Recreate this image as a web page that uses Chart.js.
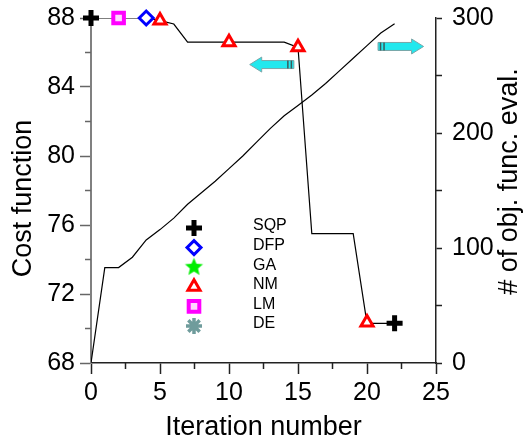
<!DOCTYPE html>
<html>
<head>
<meta charset="utf-8">
<script src="https://cdn.jsdelivr.net/npm/chart.js"></script>
<style>
    html, body { margin: 0; padding: 0; background: #fff; }
    #wrap { width: 525px; height: 442px; }
</style>
</head>
<body>
<div id="wrap"><canvas id="costChart" width="525" height="442"></canvas></div>
<script>
const FONT = '"Liberation Sans", Arial, sans-serif';

// # of objective function evaluations (right axis)
const evalIter = [0, 1, 2, 3, 4, 5, 6, 7, 8, 9, 10, 11, 12, 13, 14, 15, 16, 17, 18, 19, 20, 21, 22];
const evalCount = [0, 83, 83, 92, 107, 116, 126, 138, 148, 158, 169, 180, 192, 204, 215, 224, 233, 243, 254, 265, 276, 287, 295];

// cost function path (left axis)
const costIter = [0, 2, 4, 5, 6, 7, 14, 15, 16, 19, 20, 22];
const costValue = [88, 88, 88, 87.85, 87.65, 86.6, 86.6, 86.3, 75.5, 75.5, 70.3, 70.3];

// markers per method
const sqpIter = [0, 22];
const sqpCost = [88, 70.3];
const dfpIter = [4];
const dfpCost = [88];
const gaIter = [];
const gaCost = [];
const nmIter = [5, 10, 15, 20];
const nmCost = [87.85, 86.6, 86.3, 70.35];
const lmIter = [2];
const lmCost = [88];
const deIter = [];
const deCost = [];

// ticks
const xTicks = [0, 5, 10, 15, 20, 25];
const xMinor = [2.5, 7.5, 12.5, 17.5, 22.5];
const costTicks = [68, 72, 76, 80, 84, 88];
const costMinor = [70, 74, 78, 82, 86];
const evalTicks = [0, 100, 200, 300];
const evalMinor = [50, 150, 250];

function toPoints(xs, ys) {
    return xs.map((x, i) => ({ x: x, y: ys[i] }));
}

// filled five point star for GA
function makeStar(color, r) {
    const c = document.createElement('canvas');
    const s = Math.ceil(r * 2 + 2);
    c.width = s;
    c.height = s;
    const g = c.getContext('2d');
    g.fillStyle = color;
    g.beginPath();
    for (let i = 0; i < 10; i++) {
        const rad = (i % 2 === 0) ? r : r * 0.45;
        const a = -Math.PI / 2 + i * Math.PI / 5;
        const px = s / 2 + rad * Math.cos(a);
        const py = s / 2 + rad * Math.sin(a);
        if (i === 0) g.moveTo(px, py); else g.lineTo(px, py);
    }
    g.closePath();
    g.fill();
    return c;
}

const gaStar = makeStar('#00ee00', 9.5);

const markerStyles = {
    SQP: { pointStyle: 'cross', radius: 8, borderWidth: 5, borderColor: '#000000', backgroundColor: '#000000' },
    DFP: { pointStyle: 'rectRot', radius: 7, borderWidth: 3, borderColor: '#0000ff', backgroundColor: '#ffffff' },
    GA: { pointStyle: gaStar, radius: 9, borderWidth: 0, borderColor: '#00ee00', backgroundColor: '#00ee00' },
    NM: { pointStyle: 'triangle', radius: 7, borderWidth: 3, borderColor: '#ff0000', backgroundColor: '#ffffff' },
    LM: { pointStyle: 'rect', radius: 7.5, borderWidth: 4, borderColor: '#ff00ff', backgroundColor: '#ffd8ff' },
    DE: { pointStyle: 'star', radius: 8, borderWidth: 3.5, borderColor: '#6f9c9c', backgroundColor: '#6f9c9c' }
};

function markerSet(name, xs, ys) {
    const m = markerStyles[name];
    return {
        label: name,
        data: toPoints(xs, ys),
        yAxisID: 'y',
        showLine: false,
        clip: false,
        order: 1,
        pointStyle: m.pointStyle,
        pointRadius: m.radius,
        pointHoverRadius: m.radius,
        pointBorderWidth: m.borderWidth,
        pointBorderColor: m.borderColor,
        pointBackgroundColor: m.backgroundColor
    };
}

// cyan arrows pointing at the axis each curve belongs to (data coords)
const arrows = [
    { tail: 14.7, head: 11.5, y: 85.3 },
    { tail: 20.8, head: 24.1, y: 86.35 }
];

const legendPlugin = {
    id: 'methodLegend',
    afterDatasetsDraw(chart) {
        const ctx = chart.ctx;
        const area = chart.chartArea;
        const names = ['SQP', 'DFP', 'GA', 'NM', 'LM', 'DE'];
        const mx = area.left + 103;
        const tx = area.left + 162;
        const y0 = area.top + 210;
        ctx.save();
        names.forEach((name, i) => {
            const m = markerStyles[name];
            const y = y0 + i * 19.6;
            ctx.fillStyle = m.backgroundColor;
            ctx.strokeStyle = m.borderColor;
            ctx.lineWidth = m.borderWidth;
            Chart.helpers.drawPoint(ctx, {
                pointStyle: m.pointStyle,
                radius: m.radius,
                rotation: 0,
                borderWidth: m.borderWidth
            }, mx, y);
            ctx.fillStyle = '#000';
            ctx.font = '16px ' + FONT;
            ctx.textAlign = 'left';
            ctx.textBaseline = 'middle';
            ctx.fillText(name, tx, y - 2);
        });
        ctx.restore();
    }
};

const decorPlugin = {
    id: 'decor',
    afterDraw(chart) {
        const ctx = chart.ctx;
        const area = chart.chartArea;
        const xs = chart.scales.x;
        const ys = chart.scales.y;
        const y1 = chart.scales.y1;
        ctx.save();

        // minor ticks
        ctx.lineWidth = 1.5;
        ctx.strokeStyle = '#222';
        xMinor.forEach(v => {
            const px = xs.getPixelForValue(v);
            ctx.beginPath();
            ctx.moveTo(px, area.bottom);
            ctx.lineTo(px, area.bottom + 6);
            ctx.stroke();
        });
        ctx.strokeStyle = '#666';
        costMinor.forEach(v => {
            const py = ys.getPixelForValue(v);
            ctx.beginPath();
            ctx.moveTo(area.left, py);
            ctx.lineTo(area.left - 6, py);
            ctx.stroke();
        });
        ctx.strokeStyle = '#222';
        evalMinor.forEach(v => {
            const py = y1.getPixelForValue(v);
            ctx.beginPath();
            ctx.moveTo(area.right, py);
            ctx.lineTo(area.right + 6, py);
            ctx.stroke();
        });

        // arrows
        arrows.forEach(a => {
            const x0 = xs.getPixelForValue(a.tail);
            const x1 = xs.getPixelForValue(a.head);
            const cy = ys.getPixelForValue(a.y);
            const dir = Math.sign(x1 - x0);
            const headLen = 12;
            const bodyH = 4;
            const headH = 7.5;
            const xb = x1 - dir * headLen;
            ctx.beginPath();
            ctx.moveTo(x0, cy - bodyH);
            ctx.lineTo(xb, cy - bodyH);
            ctx.lineTo(xb, cy - headH);
            ctx.lineTo(x1, cy);
            ctx.lineTo(xb, cy + headH);
            ctx.lineTo(xb, cy + bodyH);
            ctx.lineTo(x0, cy + bodyH);
            ctx.closePath();
            ctx.fillStyle = '#22e8ee';
            ctx.fill();
            ctx.lineWidth = 1;
            ctx.strokeStyle = '#7aa6a8';
            ctx.stroke();
            ctx.strokeStyle = '#3a5a5c';
            ctx.lineWidth = 1.5;
            [2.5, 6].forEach(off => {
                const bx = x0 + dir * off;
                ctx.beginPath();
                ctx.moveTo(bx, cy - bodyH);
                ctx.lineTo(bx, cy + bodyH);
                ctx.stroke();
            });
        });

        // axis titles
        ctx.fillStyle = '#000';
        ctx.font = '27px ' + FONT;
        ctx.textAlign = 'center';
        ctx.textBaseline = 'middle';
        const midY = (area.top + area.bottom) / 2;
        ctx.fillText('Iteration number', (area.left + area.right) / 2, area.bottom + 65);

        ctx.save();
        ctx.translate(area.left - 67, midY + 8);
        ctx.rotate(-Math.PI / 2);
        ctx.fillText('Cost function', 0, 0);
        ctx.restore();

        ctx.save();
        ctx.translate(area.right + 74, midY - 9);
        ctx.rotate(-Math.PI / 2);
        ctx.fillText('# of obj. func. eval.', 0, 0);
        ctx.restore();

        ctx.restore();
    }
};

const tickFont = { family: FONT, size: 25 };

// fixed box sizes so the plot area sits where the reference has it
function fixVertical(width) {
    return scale => {
        scale.width = width;
        scale.paddingTop = 0;
        scale.paddingBottom = 0;
    };
}

const ctx = document.getElementById('costChart').getContext('2d');
const chart = new Chart(ctx, {
    type: 'scatter',
    data: {
        datasets: [
            markerSet('SQP', sqpIter, sqpCost),
            markerSet('DFP', dfpIter, dfpCost),
            markerSet('GA', gaIter, gaCost),
            markerSet('NM', nmIter, nmCost),
            markerSet('LM', lmIter, lmCost),
            markerSet('DE', deIter, deCost),
            {
                label: 'Cost',
                data: toPoints(costIter, costValue),
                yAxisID: 'y',
                showLine: true,
                borderColor: '#000',
                borderWidth: 1.2,
                pointRadius: 0,
                tension: 0,
                order: 2
            },
            {
                label: 'Evaluations',
                data: toPoints(evalIter, evalCount),
                yAxisID: 'y1',
                showLine: true,
                borderColor: '#000',
                borderWidth: 1.2,
                pointRadius: 0,
                tension: 0,
                order: 2
            }
        ]
    },
    options: {
        responsive: false,
        animation: false,
        events: [],
        layout: { padding: { top: 18, left: 0, right: 0, bottom: 0 } },
        plugins: {
            legend: { display: false },
            tooltip: { enabled: false },
            title: { display: false }
        },
        scales: {
            x: {
                type: 'linear',
                position: 'bottom',
                min: 0,
                max: 25,
                afterBuildTicks: scale => { scale.ticks = xTicks.map(v => ({ value: v })); },
                afterFit: scale => { scale.height = 79; scale.paddingLeft = 0; scale.paddingRight = 0; },
                ticks: { font: tickFont, color: '#000', padding: 4, maxRotation: 0 },
                grid: { drawOnChartArea: false, tickLength: 11, tickWidth: 1.5, tickColor: '#222' },
                border: { display: true, color: '#222', width: 1.5 },
                title: { display: false }
            },
            y: {
                type: 'linear',
                position: 'left',
                min: 68,
                max: 88,
                afterBuildTicks: scale => { scale.ticks = costTicks.map(v => ({ value: v })); },
                afterFit: fixVertical(91),
                ticks: { font: tickFont, color: '#000', padding: 5 },
                grid: { drawOnChartArea: false, tickLength: 11, tickWidth: 1.5, tickColor: '#666' },
                border: { display: true, color: '#808080', width: 2 },
                title: { display: false }
            },
            y1: {
                type: 'linear',
                position: 'right',
                min: 0,
                max: 300,
                afterBuildTicks: scale => { scale.ticks = evalTicks.map(v => ({ value: v })); },
                afterFit: fixVertical(89),
                ticks: { font: tickFont, color: '#000', padding: 10 },
                grid: { drawOnChartArea: false, tickLength: 6, tickWidth: 1.5, tickColor: '#222' },
                border: { display: true, color: '#222', width: 1.5 },
                title: { display: false }
            }
        }
    },
    plugins: [legendPlugin, decorPlugin]
});
</script>
</body>
</html>
